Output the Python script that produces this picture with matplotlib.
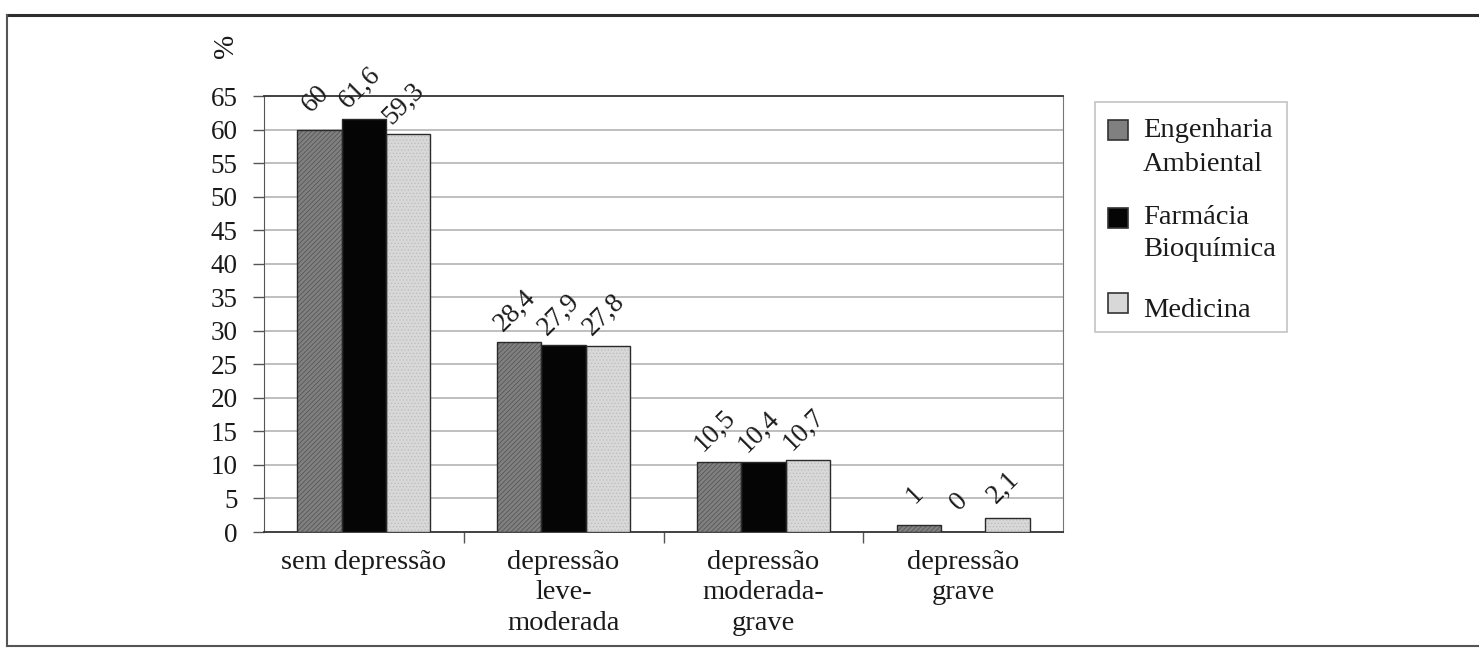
import numpy as np
import matplotlib
matplotlib.use("Agg")
import matplotlib.pyplot as plt
from matplotlib.patches import Rectangle
from matplotlib.lines import Line2D

plt.rcParams['font.family'] = ['Liberation Serif', 'DejaVu Serif']
plt.rcParams['hatch.linewidth'] = 0.5

# Data
categories = ["sem depressão", "depressão\nleve-\nmoderada",
              "depressão\nmoderada-\ngrave", "depressão\ngrave"]
series_names = ["Engenharia\nAmbiental", "Farmácia\nBioquímica", "Medicina"]
engenharia = [60, 28.4, 10.5, 1]
farmacia = [61.6, 27.9, 10.4, 0]
medicina = [59.3, 27.8, 10.7, 2.1]
value_labels = [["60", "28,4", "10,5", "1"],
                ["61,6", "27,9", "10,4", "0"],
                ["59,3", "27,8", "10,7", "2,1"]]
y_ticks = list(range(0, 70, 5))

series = [engenharia, farmacia, medicina]
face_colors = ["#808080", "#050505", "#d8d8d8"]
hatch_styles = ["///////", None, "....."]
hatch_colors = ["#505050", "#050505", "#bcbcbc"]

W, H = 1479, 652
fig = plt.figure(figsize=(W / 100, H / 100), dpi=100)


def fx(px):
    return px / W


def fy(py):
    return 1 - py / H


ax = fig.add_axes([fx(264), fy(532), fx(1063) - fx(264), fy(96) - fy(532)])

x = np.arange(len(categories))
bw = 0.222
offsets = [-bw, 0, bw]

for vals, off, fc, hs, hc in zip(series, offsets, face_colors, hatch_styles, hatch_colors):
    ax.bar(x + off, vals, bw, color=fc, hatch=hs, edgecolor=hc, linewidth=0, zorder=3)
    ax.bar(x + off, vals, bw, facecolor="none", edgecolor="#2a2a2a", linewidth=1.0, zorder=4)

# value labels above each bar
for vals, labs, off in zip(series, value_labels, offsets):
    for xi, v, lab in zip(x, vals, labs):
        ax.annotate(lab, (xi + off, v), xytext=(-3, 22), textcoords="offset points",
                    rotation=45, ha="center", va="center", fontsize=19.5, color="#1a1a1a",
                    zorder=5, annotation_clip=False)

ax.set_xlim(-0.5, len(categories) - 0.5)
ax.set_ylim(0, 65)
ax.set_yticks(y_ticks)
ax.set_yticklabels([str(t) for t in y_ticks], fontsize=19.5, color="#1a1a1a")
ax.tick_params(axis="y", direction="out", length=8, width=1, color="#555555", pad=11)

ax.set_xticks(x)
ax.set_xticklabels(categories, fontsize=20.5, color="#1a1a1a", linespacing=1.28, va="top")
ax.tick_params(axis="x", which="major", length=0, pad=13)
ax.set_xticks(np.arange(0.5, len(categories) - 0.5, 1), minor=True)
ax.tick_params(axis="x", which="minor", direction="out", length=8, width=1, color="#555555")

for t in y_ticks[1:-1]:
    ax.axhline(t, color="#b4b4b4", linewidth=1.2, zorder=1)

ax.spines["top"].set_color("#333333")
ax.spines["top"].set_linewidth(1.3)
ax.spines["left"].set_color("#555555")
ax.spines["right"].set_color("#777777")
ax.spines["bottom"].set_color("#333333")
ax.spines["bottom"].set_linewidth(1.3)

fig.text(fx(226), fy(46), "%", rotation=90, ha="center", va="center", fontsize=21, color="#1a1a1a")

# Legend
fig.add_artist(Rectangle((fx(1095), fy(332)), fx(1287) - fx(1095), fy(102) - fy(332),
                         transform=fig.transFigure, facecolor="white", edgecolor="#c4c4c4",
                         linewidth=1.2))
square_tops = [120, 208, 293]
line_baselines = [[137, 171], [224, 256], [317]]
for name, fc, top, bases in zip(series_names, face_colors, square_tops, line_baselines):
    fig.add_artist(Rectangle((fx(1108), fy(top + 20)), fx(20), 20 / H,
                             transform=fig.transFigure, facecolor=fc, edgecolor="#333333",
                             linewidth=1.2))
    for line, b in zip(name.split("\n"), bases):
        fig.text(fx(1143), fy(b), line, ha="left", va="baseline", fontsize=20.5, color="#1a1a1a")

# outer frame
fig.add_artist(Line2D([fx(7), 1], [fy(15), fy(15)], color="#2e2e2e", linewidth=2.2,
                      transform=fig.transFigure))
fig.add_artist(Line2D([fx(7), fx(7)], [fy(15), fy(646)], color="#555555", linewidth=1.5,
                      transform=fig.transFigure))
fig.add_artist(Line2D([fx(7), 1], [fy(646), fy(646)], color="#555555", linewidth=1.5,
                      transform=fig.transFigure))

fig.savefig("out.png", dpi=100, facecolor="white")
